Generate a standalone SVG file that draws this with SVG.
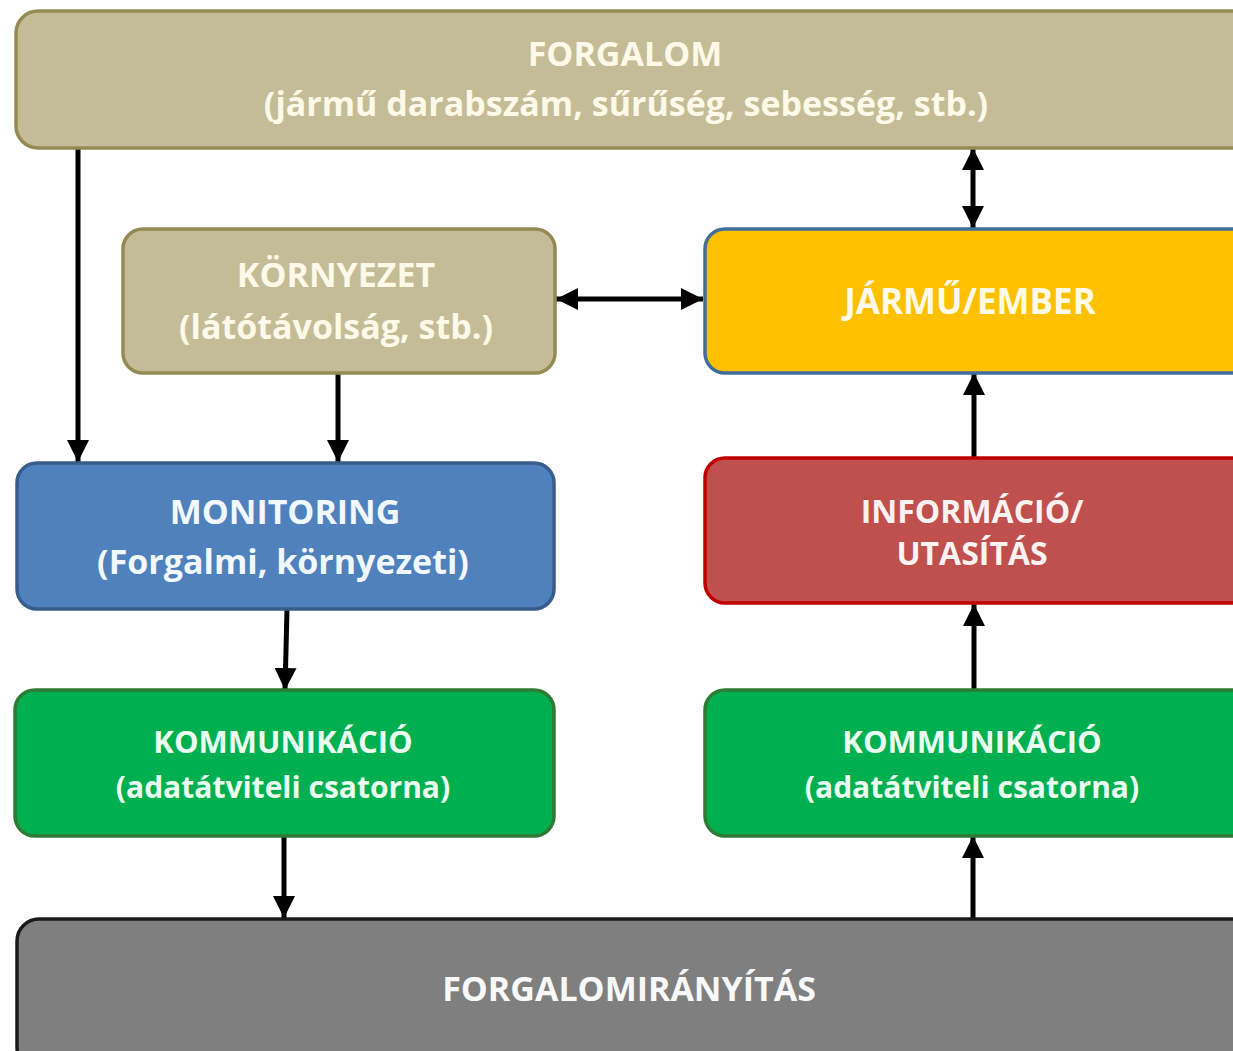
<svg xmlns="http://www.w3.org/2000/svg" width="1233" height="1051" viewBox="0 0 1233 1051">
  <defs>
    <marker id="head" markerUnits="userSpaceOnUse" markerWidth="24" markerHeight="24" viewBox="0 0 24 24" refX="22" refY="12" orient="auto-start-reverse">
      <path d="M0,1 L22,12 L0,23 Z" fill="#000"/>
    </marker>
    <style>
      .box { stroke-width: 3.5; }
      .lbl { font-family: "Open Sans", "Liberation Sans", sans-serif; font-weight: bold; text-anchor: middle; }
      .tan { fill: #c4bc96; stroke: #948a54; }
      .yel { fill: #ffc000; stroke: #3f6e99; }
      .blu { fill: #4f81bd; stroke: #385d8a; }
      .red { fill: #c0504d; stroke: #c00000; }
      .grn { fill: #00b050; stroke: #2f7a34; }
      .gry { fill: #7f7f7f; stroke: #1a1a1a; }
      .link { stroke: #000; stroke-width: 5; fill: none; marker-end: url(#head); }
      .both { marker-start: url(#head); }
    </style>
  </defs>
  <rect width="1233" height="1051" fill="#fff"/>

  <g id="connectors">
    <line class="link" x1="78" y1="148" x2="78" y2="462"/>
    <line class="link" x1="338" y1="373" x2="338" y2="462"/>
    <line class="link both" x1="556" y1="299" x2="703" y2="299"/>
    <line class="link both" x1="973" y1="148" x2="973" y2="228"/>
    <line class="link" x1="974" y1="458" x2="974" y2="373"/>
    <line class="link" x1="974" y1="690" x2="974" y2="604"/>
    <line class="link" x1="973" y1="918" x2="973" y2="836"/>
    <line class="link" x1="287" y1="609" x2="285" y2="690"/>
    <line class="link" x1="284" y1="836" x2="284" y2="918"/>
  </g>

  <g id="forgalom">
    <rect class="box tan" x="16" y="11" width="1240" height="137" rx="22"/>
    <text class="lbl" x="625" y="66" font-size="34" fill="#fdf8e8">FORGALOM</text>
    <text class="lbl" x="626" y="116" font-size="34" fill="#fdf8e8">(jármű darabszám, sűrűség, sebesség, stb.)</text>
  </g>

  <g id="kornyezet">
    <rect class="box tan" x="123" y="229" width="432" height="144" rx="20"/>
    <text class="lbl" x="336" y="287" font-size="34" fill="#fdf8e8">KÖRNYEZET</text>
    <text class="lbl" x="336" y="339" font-size="34" fill="#fdf8e8">(látótávolság, stb.)</text>
  </g>

  <g id="jarmu">
    <rect class="box yel" x="705" y="229" width="550" height="144" rx="20"/>
    <text class="lbl" x="970" y="314" font-size="35" fill="#fffbe8">JÁRMŰ/EMBER</text>
  </g>

  <g id="monitoring">
    <rect class="box blu" x="17" y="463" width="537" height="146" rx="20"/>
    <text class="lbl" x="285" y="524" font-size="34" fill="#f2f8ff">MONITORING</text>
    <text class="lbl" x="283" y="574" font-size="34" fill="#f2f8ff">(Forgalmi, környezeti)</text>
  </g>

  <g id="informacio">
    <rect class="box red" x="705" y="458" width="550" height="145" rx="20"/>
    <text class="lbl" x="972" y="523" font-size="32" fill="#fff2f2">INFORMÁCIÓ/</text>
    <text class="lbl" x="972" y="565" font-size="32" fill="#fff2f2">UTASÍTÁS</text>
  </g>

  <g id="kommunikacio-bal">
    <rect class="box grn" x="15" y="690" width="539" height="146" rx="20"/>
    <text class="lbl" x="283" y="753" font-size="31" fill="#eafff0">KOMMUNIKÁCIÓ</text>
    <text class="lbl" x="283" y="798" font-size="30" fill="#eafff0">(adatátviteli csatorna)</text>
  </g>

  <g id="kommunikacio-jobb">
    <rect class="box grn" x="705" y="690" width="550" height="146" rx="20"/>
    <text class="lbl" x="972" y="753" font-size="31" fill="#eafff0">KOMMUNIKÁCIÓ</text>
    <text class="lbl" x="972" y="798" font-size="30" fill="#eafff0">(adatátviteli csatorna)</text>
  </g>

  <g id="forgalomiranyitas">
    <rect class="box gry" x="17" y="919" width="1240" height="150" rx="22"/>
    <text class="lbl" x="629" y="1001" font-size="34" fill="#f8f8f8">FORGALOMIRÁNYÍTÁS</text>
  </g>
</svg>
